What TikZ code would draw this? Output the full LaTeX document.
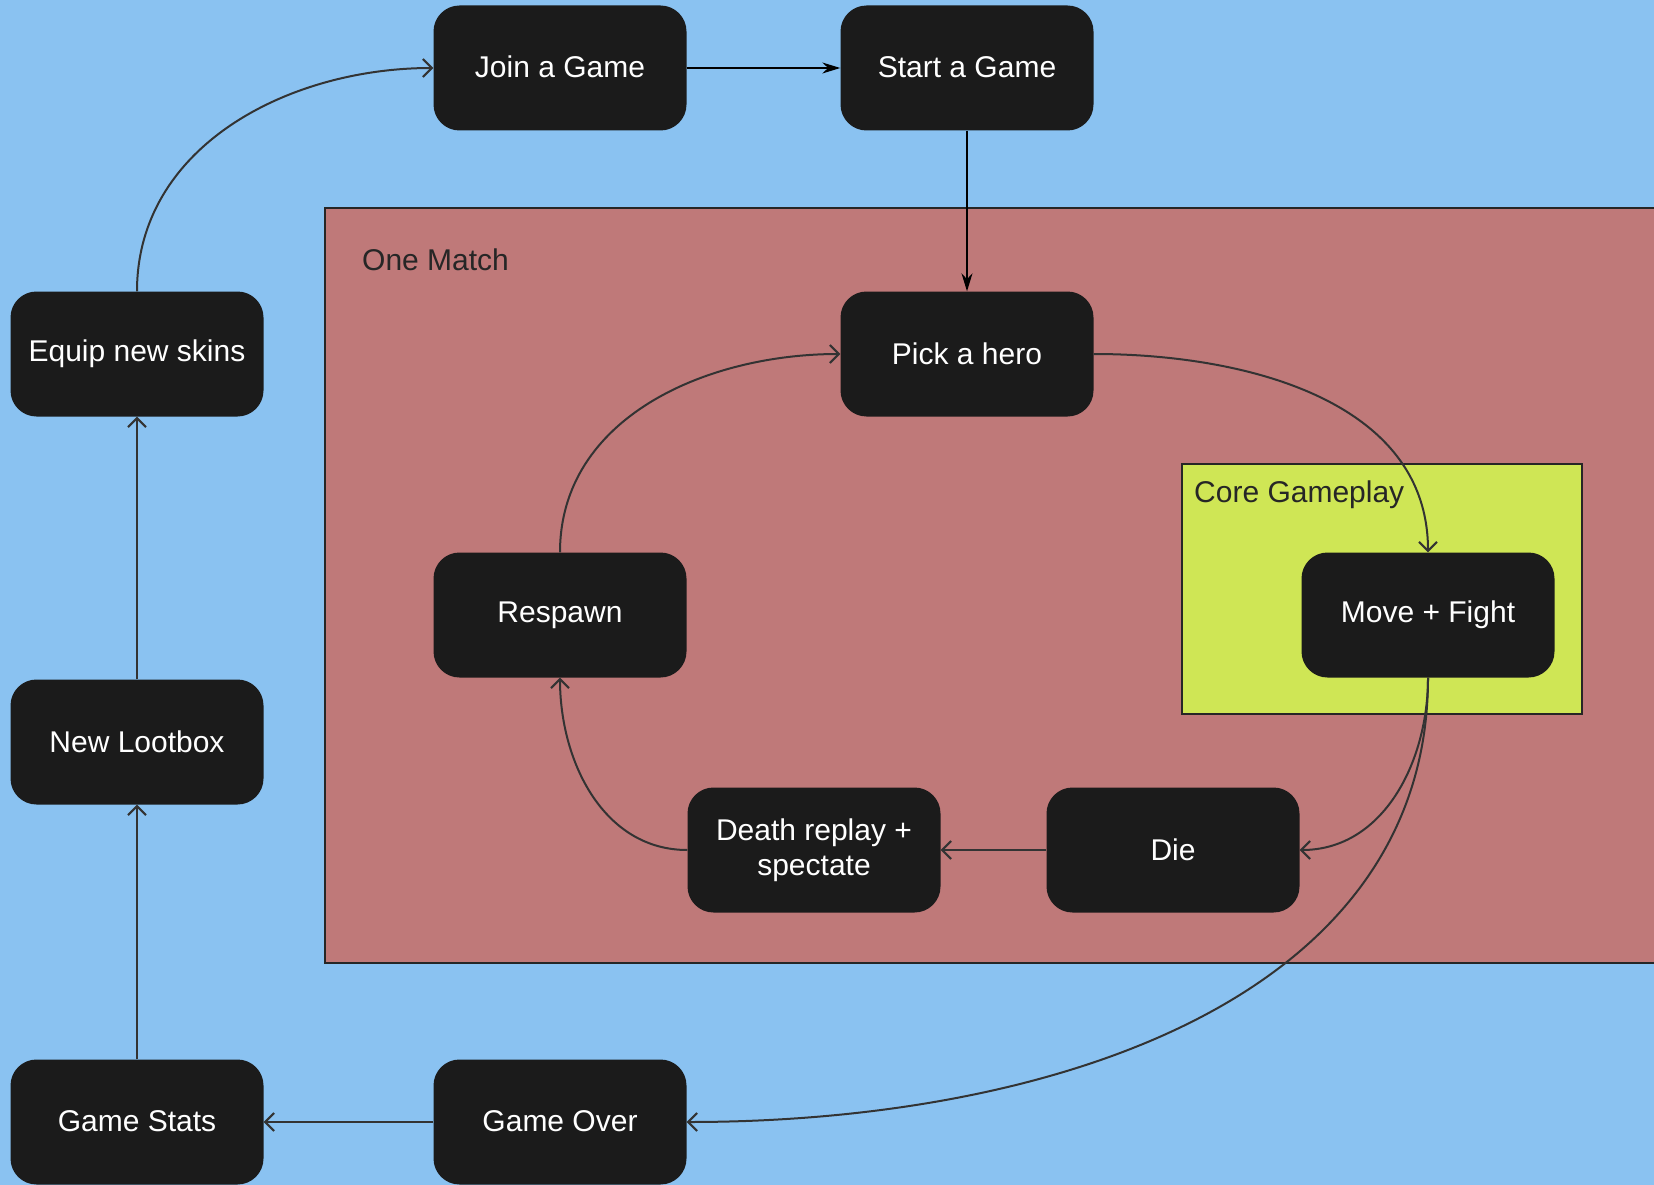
\documentclass[tikz,border=0pt]{standalone}
\usepackage{fontspec}
\setmainfont{Liberation Sans}
\usetikzlibrary{arrows.meta}
\definecolor{bgblue}{HTML}{8AC2F1}
\definecolor{matchred}{HTML}{BF7979}
\definecolor{corelime}{HTML}{CFE655}
\definecolor{boxblack}{HTML}{1B1B1B}
\definecolor{linegray}{HTML}{333333}
\tikzset{
  stepbox/.style={draw=none, fill=boxblack, rounded corners=26pt, minimum width=253pt, minimum height=125pt, text=white, font=\fontsize{30}{35}\selectfont, align=center, inner sep=0pt},
  openarrow/.style={draw=linegray, line width=2pt, -{Straight Barb[length=9pt,width=18pt,line width=2pt]}},
  filledarrow/.style={draw=black, line width=1.6pt, -{Stealth[length=18pt,width=11pt]}},
  grouplabel/.style={text=black!85, font=\fontsize{30}{36}\selectfont, anchor=west, inner sep=0pt}
}
\begin{document}
\begin{tikzpicture}[x=1pt,y=-1pt]
\useasboundingbox (0,0) rectangle (1654,1185);
\clip (0,0) rectangle (1654,1185);
\fill[bgblue] (0,0) rectangle (1654,1185);
\draw[fill=matchred, draw=black!85, line width=2pt] (325,208) rectangle (1680,963);
\node[grouplabel] (onematch) at (362,260) {One Match};
\draw[fill=corelime, draw=black!85, line width=2pt] (1182,464) rectangle (1582,714);
\node[grouplabel] (coregp) at (1194,495) {Core Gameplay};

\node[stepbox] (join) at (560,68) {\raisebox{2pt}{Join a Game}};
\node[stepbox] (start) at (967,68) {\raisebox{2pt}{Start a Game}};
\node[stepbox] (pick) at (967,354) {Pick a hero};
\node[stepbox] (equip) at (137,354) {Equip new skins};
\node[stepbox] (respawn) at (560,615) {Respawn};
\node[stepbox] (move) at (1428,615) {Move + Fight};
\node[stepbox] (loot) at (137,742) {New Lootbox};
\node[stepbox] (death) at (814,850) {Death replay +\\spectate};
\node[stepbox] (die) at (1173,850) {Die};
\node[stepbox] (stats) at (137,1122) {\raisebox{2pt}{Game Stats}};
\node[stepbox] (over) at (560,1122) {\raisebox{2pt}{Game Over}};

\draw[filledarrow] (join.east) -- (start.west);
\draw[filledarrow] (start.south) -- (pick.north);
\draw[openarrow] (equip.north) to[out=90,in=180] (join.west);
\draw[openarrow] (pick.east) to[out=0,in=90] (move.north);
\draw[openarrow] (respawn.north) to[out=90,in=180] (pick.west);
\draw[openarrow] (move.south) to[out=-90,in=0] (die.east);
\draw[openarrow] (die.west) -- (death.east);
\draw[openarrow] (death.west) to[out=180,in=-90] (respawn.south);
\draw[openarrow] (move.south) .. controls (1428,1000) and (1050,1122) .. (over.east);
\draw[openarrow] (over.west) -- (stats.east);
\draw[openarrow] (stats.north) -- (loot.south);
\draw[openarrow] (loot.north) -- (equip.south);
\end{tikzpicture}
\end{document}
